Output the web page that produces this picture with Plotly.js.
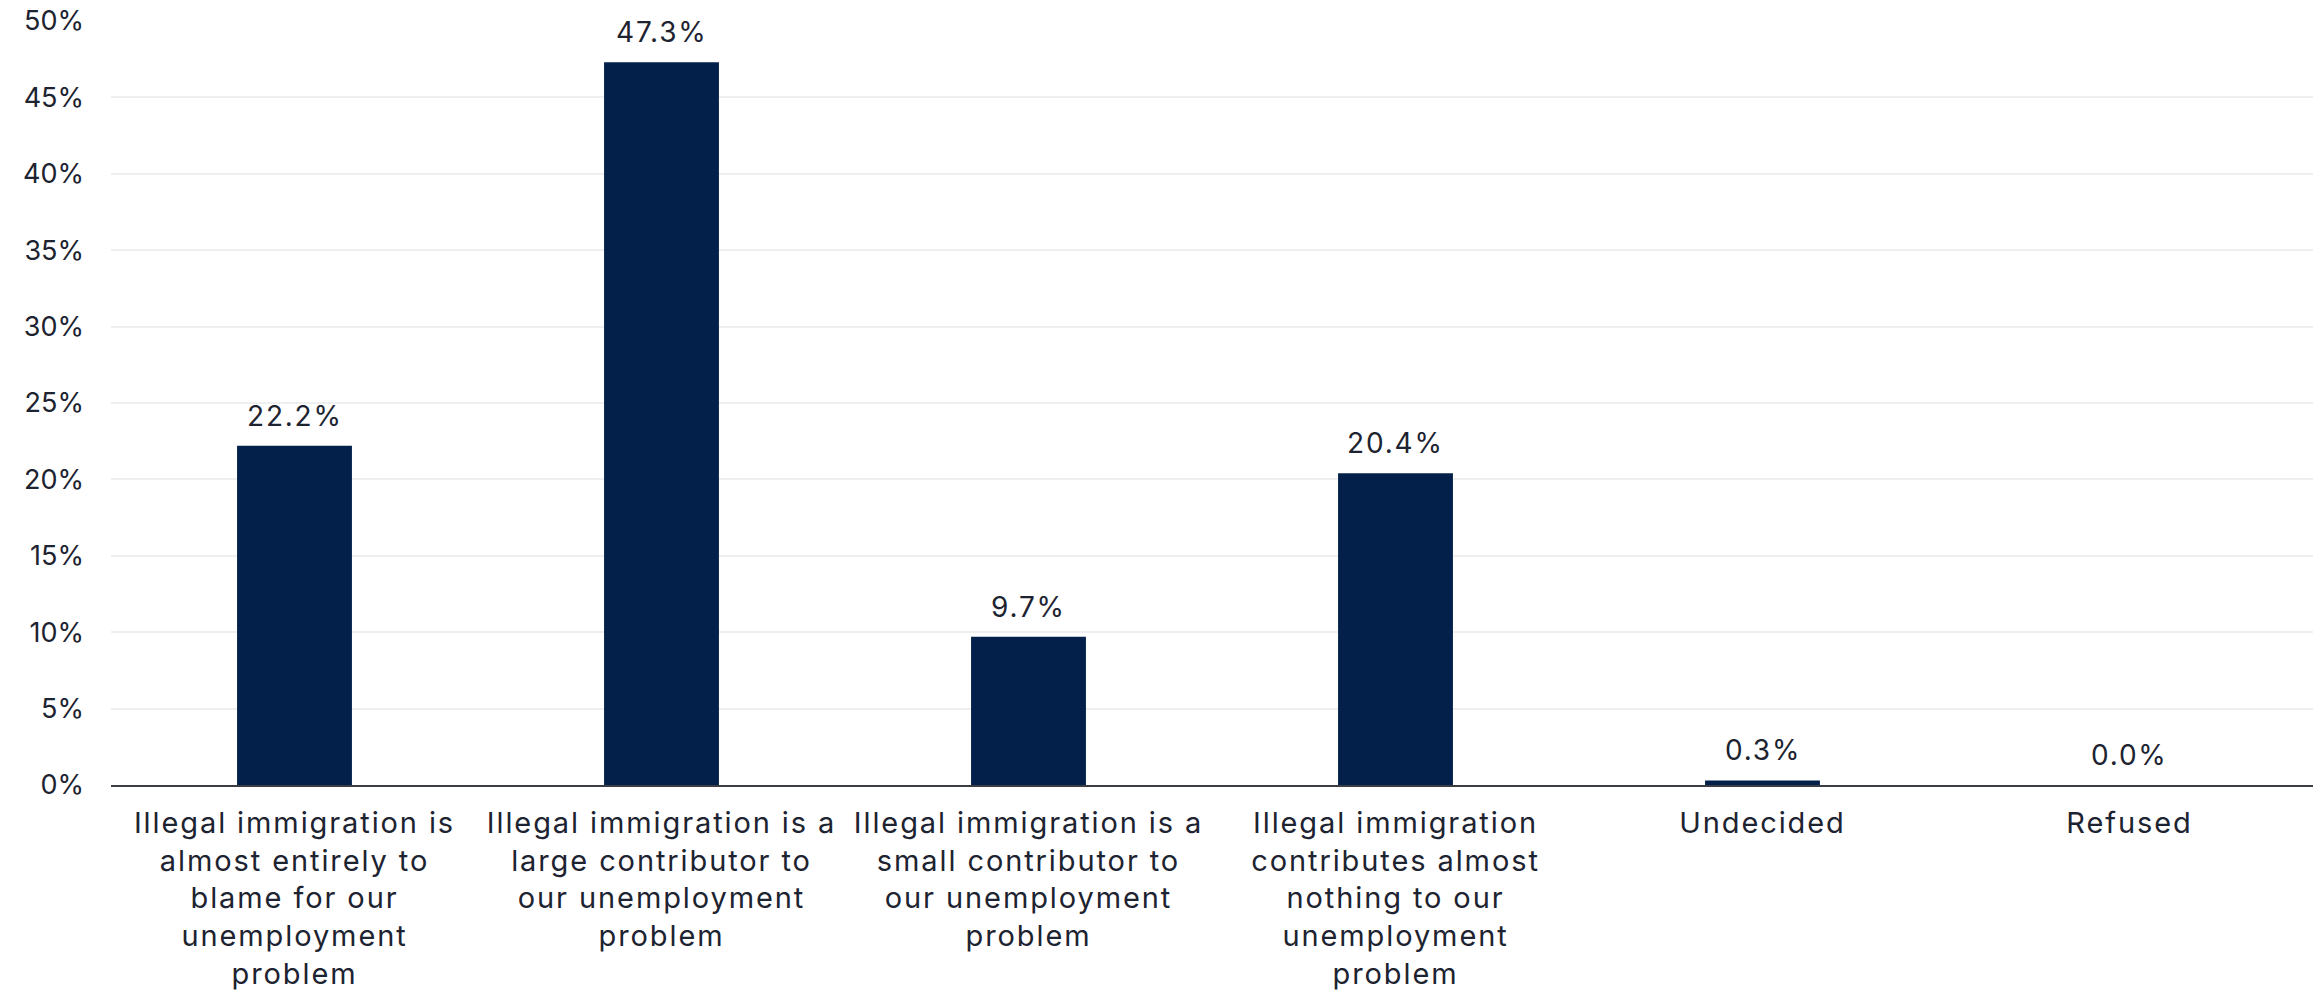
<!DOCTYPE html>
<html>
<head>
<meta charset="utf-8">
<script src="https://cdn.plot.ly/plotly-3.0.1.min.js"></script>
<style>
html,body{margin:0;padding:0;background:#fff;}
#chart{width:2323px;height:990px;}
.xtick text{letter-spacing:1.9px;}
.annotation-text{letter-spacing:1.8px;}
</style>
</head>
<body>
<div id="chart"></div>
<script>
const categories = [
  "Illegal immigration is<br>almost entirely to<br>blame for our<br>unemployment<br>problem",
  "Illegal immigration is a<br>large contributor to<br>our unemployment<br>problem",
  "Illegal immigration is a<br>small contributor to<br>our unemployment<br>problem",
  "Illegal immigration<br>contributes almost<br>nothing to our<br>unemployment<br>problem",
  "Undecided",
  "Refused"
];
const values = [22.2, 47.3, 9.7, 20.4, 0.3, 0.0];
const valueLabels = values.map(v => v.toFixed(1) + "%");
const yTickVals = [0, 5, 10, 15, 20, 25, 30, 35, 40, 45, 50];
const yTickText = yTickVals.map(v => v + "%");

const FONT = "Inter, 'Open Sans', sans-serif";
const TEXT = "#1d2330";

const trace = {
  type: "bar",
  x: categories,
  y: values,
  marker: {color: "#03204a"},
  hoverinfo: "skip"
};

const annotations = categories.map((c, i) => ({
  x: c, y: values[i], text: valueLabels[i],
  xref: "x", yref: "y", showarrow: false,
  yanchor: "middle", yshift: 30,
  font: {family: FONT, size: 28, color: TEXT}
}));

const layout = {
  width: 2323, height: 990,
  margin: {l: 111, r: 10, t: 21, b: 205},
  paper_bgcolor: "#fff", plot_bgcolor: "#fff",
  bargap: 0.687,
  showlegend: false,
  font: {family: FONT, size: 27, color: TEXT},
  xaxis: {
    type: "category",
    showgrid: false,
    showline: true, linecolor: "#3a3d44", linewidth: 2,
    ticks: "", tickangle: 0,
    tickfont: {family: FONT, size: 29, color: TEXT},
    ticklabelstandoff: 11,
    fixedrange: true
  },
  yaxis: {
    range: [0, 50],
    tickvals: yTickVals, ticktext: yTickText,
    showgrid: true, gridcolor: "#efefef", gridwidth: 2,
    zeroline: false, showline: false, ticks: "",
    tickfont: {family: FONT, size: 27, color: TEXT},
    ticklabelstandoff: 26,
    fixedrange: true
  },
  annotations: annotations
};

Plotly.newPlot("chart", [trace], layout, {displayModeBar: false, staticPlot: true});
</script>
</body>
</html>
